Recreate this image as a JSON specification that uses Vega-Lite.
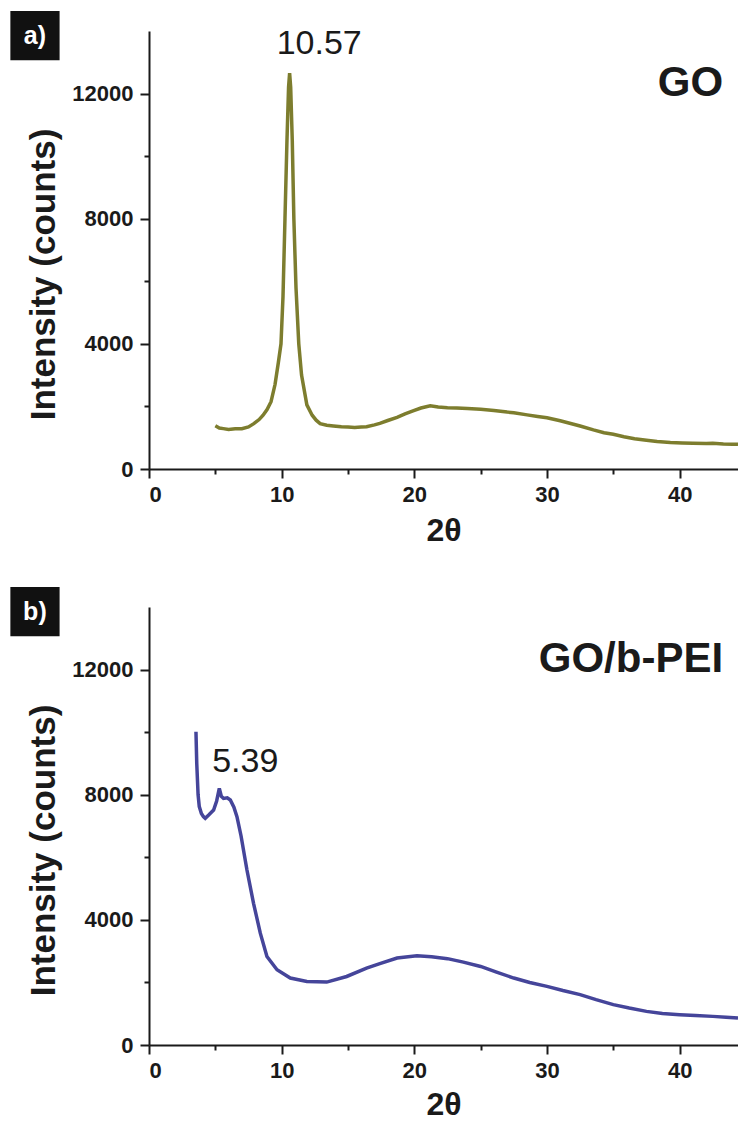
{
  "$schema": "https://vega.github.io/schema/vega-lite/v6.json",
  "background": "white",
  "padding": {"left": 10, "top": 10, "right": 0, "bottom": 0},
  "spacing": 40,
  "config": {
    "view": {"stroke": null},
    "axis": {
      "grid": false,
      "labelFont": "Liberation Sans",
      "labelFontWeight": "bold",
      "labelFontSize": 22,
      "labelColor": "#1a1a1a",
      "domainColor": "#1a1a1a",
      "tickColor": "#1a1a1a",
      "domainWidth": 2,
      "tickWidth": 2,
      "titleColor": "#1a1a1a"
    }
  },
  "datasets": {
    "go": [
      {"t": 5.0, "c": 1380}, {"t": 5.3, "c": 1310}, {"t": 5.6, "c": 1290}, {"t": 6.0, "c": 1265},
      {"t": 6.5, "c": 1285}, {"t": 7.0, "c": 1290}, {"t": 7.5, "c": 1345}, {"t": 7.9, "c": 1450},
      {"t": 8.3, "c": 1580}, {"t": 8.6, "c": 1720}, {"t": 8.9, "c": 1900}, {"t": 9.2, "c": 2150},
      {"t": 9.5, "c": 2700}, {"t": 9.75, "c": 3400}, {"t": 9.95, "c": 4000}, {"t": 10.1, "c": 5500},
      {"t": 10.25, "c": 8000}, {"t": 10.4, "c": 10500}, {"t": 10.52, "c": 12200}, {"t": 10.6, "c": 12650},
      {"t": 10.68, "c": 12200}, {"t": 10.8, "c": 10500}, {"t": 10.92, "c": 8000}, {"t": 11.08, "c": 5800},
      {"t": 11.29, "c": 4000}, {"t": 11.5, "c": 3000}, {"t": 11.9, "c": 2050}, {"t": 12.3, "c": 1720},
      {"t": 12.6, "c": 1560}, {"t": 12.9, "c": 1450}, {"t": 13.4, "c": 1400}, {"t": 13.9, "c": 1375},
      {"t": 14.5, "c": 1350}, {"t": 15.0, "c": 1340}, {"t": 15.5, "c": 1330}, {"t": 16.0, "c": 1340},
      {"t": 16.4, "c": 1350}, {"t": 17.0, "c": 1410}, {"t": 17.4, "c": 1460}, {"t": 18.0, "c": 1550},
      {"t": 18.7, "c": 1650}, {"t": 19.3, "c": 1760}, {"t": 19.9, "c": 1860}, {"t": 20.5, "c": 1950},
      {"t": 21.2, "c": 2020}, {"t": 21.8, "c": 1980}, {"t": 22.5, "c": 1960}, {"t": 23.2, "c": 1950},
      {"t": 24.0, "c": 1930}, {"t": 25.0, "c": 1910}, {"t": 26.0, "c": 1870}, {"t": 27.0, "c": 1820},
      {"t": 27.5, "c": 1800}, {"t": 28.5, "c": 1730}, {"t": 29.3, "c": 1680}, {"t": 30.0, "c": 1640},
      {"t": 31.0, "c": 1540}, {"t": 32.0, "c": 1430}, {"t": 32.5, "c": 1375}, {"t": 33.5, "c": 1250},
      {"t": 34.3, "c": 1160}, {"t": 35.0, "c": 1110}, {"t": 35.8, "c": 1030}, {"t": 36.6, "c": 970},
      {"t": 37.5, "c": 920}, {"t": 38.3, "c": 880}, {"t": 39.3, "c": 845}, {"t": 40.2, "c": 830},
      {"t": 41.0, "c": 820}, {"t": 42.0, "c": 815}, {"t": 42.5, "c": 820}, {"t": 43.3, "c": 800},
      {"t": 44.0, "c": 795}, {"t": 44.4, "c": 790}
    ],
    "pei": [
      {"t": 3.54, "c": 10010}, {"t": 3.6, "c": 9000}, {"t": 3.7, "c": 8000}, {"t": 3.79, "c": 7620},
      {"t": 3.95, "c": 7400}, {"t": 4.1, "c": 7300}, {"t": 4.24, "c": 7245}, {"t": 4.5, "c": 7350},
      {"t": 4.87, "c": 7510}, {"t": 5.1, "c": 7800}, {"t": 5.3, "c": 8200}, {"t": 5.45, "c": 7950},
      {"t": 5.62, "c": 7880}, {"t": 5.9, "c": 7900}, {"t": 6.13, "c": 7830}, {"t": 6.4, "c": 7600},
      {"t": 6.63, "c": 7300}, {"t": 6.94, "c": 6680}, {"t": 7.38, "c": 5600}, {"t": 7.88, "c": 4530},
      {"t": 8.39, "c": 3575}, {"t": 8.89, "c": 2830}, {"t": 9.65, "c": 2405}, {"t": 10.65, "c": 2140},
      {"t": 11.9, "c": 2030}, {"t": 13.4, "c": 2010}, {"t": 14.9, "c": 2190}, {"t": 16.4, "c": 2460},
      {"t": 17.4, "c": 2600}, {"t": 18.7, "c": 2780}, {"t": 20.2, "c": 2850}, {"t": 21.3, "c": 2820},
      {"t": 22.5, "c": 2760}, {"t": 23.7, "c": 2650}, {"t": 25.0, "c": 2510}, {"t": 26.2, "c": 2330},
      {"t": 27.5, "c": 2140}, {"t": 28.7, "c": 2000}, {"t": 30.0, "c": 1875}, {"t": 31.2, "c": 1740},
      {"t": 32.5, "c": 1610}, {"t": 33.7, "c": 1450}, {"t": 35.0, "c": 1290}, {"t": 36.2, "c": 1180},
      {"t": 37.5, "c": 1075}, {"t": 38.7, "c": 1010}, {"t": 40.0, "c": 970}, {"t": 41.2, "c": 940},
      {"t": 42.5, "c": 915}, {"t": 43.5, "c": 890}, {"t": 44.4, "c": 860}
    ]
  },
  "vconcat": [
    {
      "width": 589,
      "height": 438,
      "resolve": {"axis": {"x": "independent", "y": "independent"}},
      "layer": [
        {
          "data": {"values": [{"x1": -10.45, "x2": -6.74, "y1": 14642, "y2": 13066}]},
          "mark": {"type": "rect", "color": "#111111"},
          "encoding": {
            "x": {"field": "x1", "type": "quantitative", "scale": {"domain": [0, 44.4], "nice": false, "zero": false},
                  "axis": {"orient": "bottom", "values": [5, 15, 25, 35], "labels": false, "domain": false, "tickSize": 5, "title": null}},
            "x2": {"field": "x2"},
            "y": {"field": "y1", "type": "quantitative", "scale": {"domain": [0, 14000], "nice": false},
                  "axis": {"orient": "left", "values": [2000, 6000, 10000], "labels": false, "domain": false, "tickSize": 5, "title": null}},
            "y2": {"field": "y2"}
          }
        },
        {
          "data": {"values": [{"x": -8.6, "y": 13854, "label": "a)"}]},
          "mark": {"type": "text", "color": "white", "font": "Liberation Sans", "fontWeight": "bold", "fontSize": 25, "align": "center", "baseline": "middle"},
          "encoding": {
            "x": {"field": "x", "type": "quantitative", "scale": {"domain": [0, 44.4], "nice": false, "zero": false}, "axis": null},
            "y": {"field": "y", "type": "quantitative", "scale": {"domain": [0, 14000], "nice": false}, "axis": null},
            "text": {"field": "label"}
          }
        },
        {
          "data": {"name": "go"},
          "mark": {"type": "line", "color": "#7d7d2e", "strokeWidth": 3.5},
          "encoding": {
            "x": {"field": "t", "type": "quantitative", "scale": {"domain": [0, 44.4], "nice": false, "zero": false},
                  "axis": {"orient": "bottom", "values": [0, 10, 20, 30, 40], "format": "d", "tickSize": 9, "labelPadding": 6,
                           "title": "2θ", "titleFont": "Liberation Sans", "titleFontSize": 32, "titleFontWeight": "bold", "titlePadding": 10}},
            "y": {"field": "c", "type": "quantitative", "scale": {"domain": [0, 14000], "nice": false},
                  "axis": {"orient": "left", "values": [0, 4000, 8000, 12000], "format": "d", "tickSize": 9, "labelPadding": 7,
                           "title": "Intensity (counts)", "titleFont": "Liberation Sans", "titleFontSize": 35, "titleFontWeight": "bold", "titlePadding": 10, "titleY": 243}}
          }
        },
        {
          "data": {"values": [{"x": 12.83, "y": 13267, "label": "10.57"}]},
          "mark": {"type": "text", "color": "#1a1a1a", "font": "Liberation Sans", "fontSize": 34, "align": "center", "baseline": "alphabetic"},
          "encoding": {
            "x": {"field": "x", "type": "quantitative", "scale": {"domain": [0, 44.4], "nice": false, "zero": false}, "axis": null},
            "y": {"field": "y", "type": "quantitative", "scale": {"domain": [0, 14000], "nice": false}, "axis": null},
            "text": {"field": "label"}
          }
        },
        {
          "data": {"values": [{"x": 43.28, "y": 11925, "label": "GO"}]},
          "mark": {"type": "text", "color": "#1a1a1a", "font": "Liberation Sans", "fontWeight": "bold", "fontSize": 42, "align": "right", "baseline": "alphabetic"},
          "encoding": {
            "x": {"field": "x", "type": "quantitative", "scale": {"domain": [0, 44.4], "nice": false, "zero": false}, "axis": null},
            "y": {"field": "y", "type": "quantitative", "scale": {"domain": [0, 14000], "nice": false}, "axis": null},
            "text": {"field": "label"}
          }
        }
      ]
    },
    {
      "width": 589,
      "height": 438,
      "resolve": {"axis": {"x": "independent", "y": "independent"}},
      "layer": [
        {
          "data": {"values": [{"x1": -10.45, "x2": -6.74, "y1": 14642, "y2": 13066}]},
          "mark": {"type": "rect", "color": "#111111"},
          "encoding": {
            "x": {"field": "x1", "type": "quantitative", "scale": {"domain": [0, 44.4], "nice": false, "zero": false},
                  "axis": {"orient": "bottom", "values": [5, 15, 25, 35], "labels": false, "domain": false, "tickSize": 5, "title": null}},
            "x2": {"field": "x2"},
            "y": {"field": "y1", "type": "quantitative", "scale": {"domain": [0, 14000], "nice": false},
                  "axis": {"orient": "left", "values": [2000, 6000, 10000], "labels": false, "domain": false, "tickSize": 5, "title": null}},
            "y2": {"field": "y2"}
          }
        },
        {
          "data": {"values": [{"x": -8.6, "y": 13854, "label": "b)"}]},
          "mark": {"type": "text", "color": "white", "font": "Liberation Sans", "fontWeight": "bold", "fontSize": 25, "align": "center", "baseline": "middle"},
          "encoding": {
            "x": {"field": "x", "type": "quantitative", "scale": {"domain": [0, 44.4], "nice": false, "zero": false}, "axis": null},
            "y": {"field": "y", "type": "quantitative", "scale": {"domain": [0, 14000], "nice": false}, "axis": null},
            "text": {"field": "label"}
          }
        },
        {
          "data": {"name": "pei"},
          "mark": {"type": "line", "color": "#45459a", "strokeWidth": 3.5},
          "encoding": {
            "x": {"field": "t", "type": "quantitative", "scale": {"domain": [0, 44.4], "nice": false, "zero": false},
                  "axis": {"orient": "bottom", "values": [0, 10, 20, 30, 40], "format": "d", "tickSize": 9, "labelPadding": 6,
                           "title": "2θ", "titleFont": "Liberation Sans", "titleFontSize": 32, "titleFontWeight": "bold", "titlePadding": 8}},
            "y": {"field": "c", "type": "quantitative", "scale": {"domain": [0, 14000], "nice": false},
                  "axis": {"orient": "left", "values": [0, 4000, 8000, 12000], "format": "d", "tickSize": 9, "labelPadding": 7,
                           "title": "Intensity (counts)", "titleFont": "Liberation Sans", "titleFontSize": 35, "titleFontWeight": "bold", "titlePadding": 10, "titleY": 243}}
          }
        },
        {
          "data": {"values": [{"x": 7.26, "y": 8736, "label": "5.39"}]},
          "mark": {"type": "text", "color": "#1a1a1a", "font": "Liberation Sans", "fontSize": 34, "align": "center", "baseline": "alphabetic"},
          "encoding": {
            "x": {"field": "x", "type": "quantitative", "scale": {"domain": [0, 44.4], "nice": false, "zero": false}, "axis": null},
            "y": {"field": "y", "type": "quantitative", "scale": {"domain": [0, 14000], "nice": false}, "axis": null},
            "text": {"field": "label"}
          }
        },
        {
          "data": {"values": [{"x": 43.28, "y": 11928, "label": "GO/b-PEI"}]},
          "mark": {"type": "text", "color": "#1a1a1a", "font": "Liberation Sans", "fontWeight": "bold", "fontSize": 42, "align": "right", "baseline": "alphabetic"},
          "encoding": {
            "x": {"field": "x", "type": "quantitative", "scale": {"domain": [0, 44.4], "nice": false, "zero": false}, "axis": null},
            "y": {"field": "y", "type": "quantitative", "scale": {"domain": [0, 14000], "nice": false}, "axis": null},
            "text": {"field": "label"}
          }
        }
      ]
    }
  ]
}
